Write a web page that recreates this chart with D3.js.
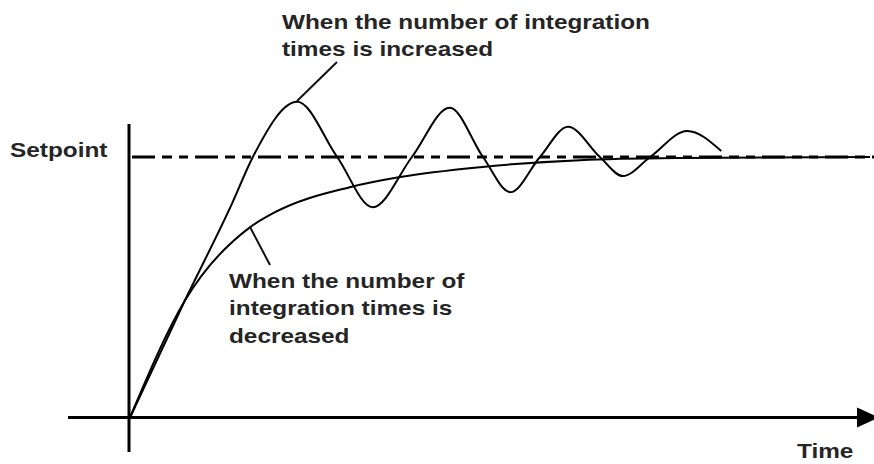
<!DOCTYPE html>
<html>
<head>
<meta charset="utf-8">
<script src="https://cdn.jsdelivr.net/npm/d3@7"></script>
<style>
  html, body { margin: 0; padding: 0; background: #fff; }
  svg { display: block; }
  .lbl { font-family: "Liberation Sans", Arial, Helvetica, sans-serif; font-weight: bold; font-size: 21px; fill: #252525; }
</style>
</head>
<body>
<svg id="chart" width="874" height="464"></svg>
<script>
// Process response to a setpoint step (time in arbitrary units 0..100, value relative to setpoint = 1)
const setpointValue = 1.0;

// Response with more integration: overshoots and rings around the setpoint
const increasedTime  = [0, 7.4, 13.8, 16.6, 22.6, 28.0, 32.8, 38.1, 43.2, 47.7, 51.4, 55.4, 59.2, 63.5, 66.6, 70.3, 75.3, 79.9];
const increasedValue = [0, 0.448, 0.822, 1.0, 1.212, 1.0, 0.807, 1.0, 1.189, 1.0, 0.865, 1.0, 1.116, 1.0, 0.927, 1.0, 1.1, 1.023];

// Response with less integration: slow rise approaching the setpoint
const decreasedTime  = [0, 7.4, 16.2, 19.6, 29.7, 36.5, 47.3, 60.8, 74.3, 100];
const decreasedValue = [0, 0.448, 0.730, 0.788, 0.884, 0.923, 0.961, 0.988, 0.996, 1.0];

// Annotation texts
const increasedLabel = ["When the number of integration", "times is increased"];
const decreasedLabel = ["When the number of", "integration times is", "decreased"];
const setpointLabel = "Setpoint";
const timeLabel = "Time";

const svg = d3.select("#chart");

const x = d3.scaleLinear().domain([0, 100]).range([130, 870]);
const y = d3.scaleLinear().domain([0, 1]).range([417.5, 157]);

const textScale = 1.16;

// Axes (plain lines, no ticks)
svg.append("line")
  .attr("x1", 68).attr("x2", 860)
  .attr("y1", y(0)).attr("y2", y(0))
  .attr("stroke", "#000").attr("stroke-width", 3);
svg.append("path")
  .attr("d", `M857,${y(0) - 10}L879,${y(0)}L857,${y(0) + 10}Z`)
  .attr("fill", "#000");
svg.append("line")
  .attr("x1", x(0) - 1).attr("x2", x(0) - 1)
  .attr("y1", 124).attr("y2", 452)
  .attr("stroke", "#000").attr("stroke-width", 3);

// Setpoint reference (dash-dot)
svg.append("line")
  .attr("x1", x(0) + 2).attr("x2", 874)
  .attr("y1", y(setpointValue)).attr("y2", y(setpointValue))
  .attr("stroke", "#000").attr("stroke-width", 3)
  .attr("stroke-dasharray", "23,7,10,7,9,7");

const line = d3.line()
  .x(d => x(d[0]))
  .y(d => y(d[1]))
  .curve(d3.curveMonotoneX);

svg.append("path")
  .datum(decreasedTime.map((t, i) => [t, decreasedValue[i]]))
  .attr("d", line)
  .attr("fill", "none").attr("stroke", "#000").attr("stroke-width", 2);

svg.append("path")
  .datum(increasedTime.map((t, i) => [t, increasedValue[i]]))
  .attr("d", line)
  .attr("fill", "none").attr("stroke", "#000").attr("stroke-width", 2);

// Leader lines
svg.append("line")
  .attr("x1", 337).attr("y1", 62).attr("x2", 297).attr("y2", 101)
  .attr("stroke", "#111").attr("stroke-width", 2);
svg.append("line")
  .attr("x1", 250).attr("y1", 227).attr("x2", 270).attr("y2", 265)
  .attr("stroke", "#111").attr("stroke-width", 2);

function addText(str, px, py) {
  svg.append("text")
    .attr("class", "lbl")
    .attr("transform", `translate(${px},${py}) scale(${textScale},1)`)
    .text(str);
}

increasedLabel.forEach((s, i) => addText(s, 282, 28.5 + i * 27));
decreasedLabel.forEach((s, i) => addText(s, 229, 287.5 + i * 27.8));
addText(setpointLabel, 10, 157);
addText(timeLabel, 797, 458);
</script>
</body>
</html>
